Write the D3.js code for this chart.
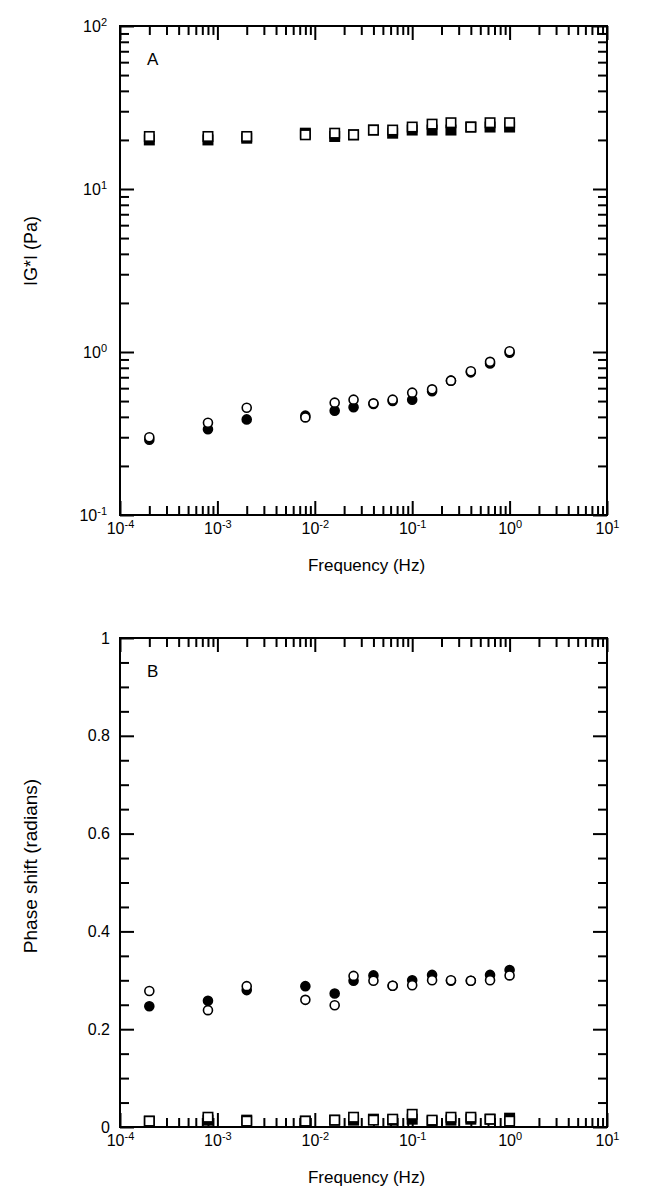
<!DOCTYPE html>
<html>
<head>
<meta charset="utf-8">
<script src="https://cdn.jsdelivr.net/npm/d3@7"></script>
<style>
  body { margin: 0; background: #fff; }
  text { font-family: "Liberation Sans", Arial, Helvetica, sans-serif; fill: #000; }
</style>
</head>
<body>
<div id="chart"></div>
<script>
// frequencies (Hz)
var freq = [0.0002, 0.0008, 0.002, 0.008, 0.016, 0.025, 0.04, 0.063, 0.1, 0.16, 0.25, 0.4, 0.63, 1.0];

// panel A, |G*| (Pa)
var gSquareFilled = [20, 20, 20.5, 22, 21, 21.5, 23, 22, 23, 23, 23, 24, 24, 24];
var gSquareOpen = [21, 21, 21, 21.5, 22, 21.5, 23, 23, 24, 25, 25.5, 24, 25.5, 25.5];
var gCircleFilled = [0.29, 0.336, 0.386, 0.407, 0.436, 0.458, 0.48, 0.50, 0.51, 0.575, 0.667, 0.75, 0.85, 0.99];
var gCircleOpen = [0.30, 0.368, 0.455, 0.397, 0.489, 0.51, 0.484, 0.51, 0.563, 0.59, 0.667, 0.762, 0.87, 1.01];

// panel B, phase shift (radians)
var pCircleFilled = [0.247, 0.258, 0.28, 0.288, 0.273, 0.299, 0.31, 0.289, 0.30, 0.311, 0.299, 0.299, 0.311, 0.321];
var pCircleOpen = [0.278, 0.239, 0.288, 0.26, 0.249, 0.309, 0.299, 0.289, 0.29, 0.30, 0.30, 0.299, 0.30, 0.31];
var pSquareFilled = [0.012, 0.014, 0.014, 0.012, 0.014, 0.014, 0.016, 0.014, 0.016, 0.012, 0.014, 0.016, 0.016, 0.018];
var pSquareOpen = [0.012, 0.02, 0.012, 0.012, 0.014, 0.02, 0.014, 0.016, 0.026, 0.014, 0.02, 0.02, 0.016, 0.012];

var xTicksMajor = [1e-4, 1e-3, 1e-2, 1e-1, 1e0, 1e1];
var gTicksMajor = [1e-1, 1e0, 1e1, 1e2];
var pTicksMajor = [0, 0.2, 0.4, 0.6, 0.8, 1];
var pTicksMinor = [0.05, 0.1, 0.15, 0.25, 0.3, 0.35, 0.45, 0.5, 0.55, 0.65, 0.7, 0.75, 0.85, 0.9, 0.95];

var width = 665;
var height = 1196;

var plotLeft = 120;
var plotRight = 607;
var plotSize = 489;
var panelTops = [26, 638];

var majorLen = 14;
var minorLen = 9;

var svg = d3.select("#chart").append("svg")
  .attr("width", width)
  .attr("height", height);

function logMinor(domain) {
  var out = [];
  for (var e = Math.round(Math.log10(domain[0])); e < Math.round(Math.log10(domain[1])); e++) {
    for (var m = 2; m <= 9; m++) out.push(m * Math.pow(10, e));
  }
  return out;
}

function powLabel(sel, size) {
  sel.selectAll(".tick text").each(function(d) {
    var t = d3.select(this);
    var exp = Math.round(Math.log10(d));
    t.text("10");
    t.append("tspan").attr("dy", "-0.55em").attr("font-size", size).text(exp);
  });
}

function styleAxis(g) {
  g.select(".domain").remove();
  g.selectAll(".tick line").attr("stroke", "#000").attr("stroke-width", 2);
}

function drawPanel(top, yScale, yMajor, yMinor, logY, letter, yTitle, yTitleY, yTitleSize) {
  var bottom = top + plotSize;
  var xScale = d3.scaleLog().domain([1e-4, 1e1]).range([plotLeft, plotRight]);
  var xMinor = logMinor([1e-4, 1e1]);
  var g = svg.append("g");

  // bottom axis
  var bx = g.append("g").attr("transform", "translate(0," + bottom + ")")
    .call(d3.axisBottom(xScale).tickValues(xTicksMajor).tickSize(-majorLen).tickSizeOuter(0).tickPadding(8));
  bx.selectAll("text").attr("font-size", 16);
  powLabel(bx, 11);
  styleAxis(bx);
  var bxm = g.append("g").attr("transform", "translate(0," + bottom + ")")
    .call(d3.axisBottom(xScale).tickValues(xMinor).tickSize(-minorLen).tickSizeOuter(0).tickFormat(""));
  styleAxis(bxm);

  // top axis
  var tx = g.append("g").attr("transform", "translate(0," + top + ")")
    .call(d3.axisTop(xScale).tickValues(xTicksMajor).tickSize(-majorLen).tickSizeOuter(0).tickFormat(""));
  styleAxis(tx);
  var txm = g.append("g").attr("transform", "translate(0," + top + ")")
    .call(d3.axisTop(xScale).tickValues(xMinor).tickSize(-minorLen).tickSizeOuter(0).tickFormat(""));
  styleAxis(txm);

  // left axis
  var ly = g.append("g").attr("transform", "translate(" + plotLeft + ",0)")
    .call(d3.axisLeft(yScale).tickValues(yMajor).tickSize(-majorLen).tickSizeOuter(0).tickPadding(logY ? 13 : 10));
  ly.selectAll("text").attr("font-size", 16);
  if (logY) powLabel(ly, 11);
  else ly.selectAll(".tick text").text(function(d) { return d === 0 || d === 1 ? d : d3.format(".1f")(d); });
  styleAxis(ly);
  var lym = g.append("g").attr("transform", "translate(" + plotLeft + ",0)")
    .call(d3.axisLeft(yScale).tickValues(yMinor).tickSize(-minorLen).tickSizeOuter(0).tickFormat(""));
  styleAxis(lym);

  // right axis
  var ry = g.append("g").attr("transform", "translate(" + plotRight + ",0)")
    .call(d3.axisRight(yScale).tickValues(yMajor).tickSize(-majorLen).tickSizeOuter(0).tickFormat(""));
  styleAxis(ry);
  var rym = g.append("g").attr("transform", "translate(" + plotRight + ",0)")
    .call(d3.axisRight(yScale).tickValues(yMinor).tickSize(-minorLen).tickSizeOuter(0).tickFormat(""));
  styleAxis(rym);

  // frame
  g.append("rect")
    .attr("x", plotLeft).attr("y", top)
    .attr("width", plotRight - plotLeft).attr("height", plotSize)
    .attr("fill", "none").attr("stroke", "#000").attr("stroke-width", 2);

  // titles
  g.append("text")
    .attr("x", (plotLeft + plotRight) / 2 + 3).attr("y", bottom + 56)
    .attr("text-anchor", "middle").attr("font-size", 17)
    .text("Frequency (Hz)");
  g.append("text")
    .attr("transform", "translate(37," + yTitleY + ") rotate(-90)")
    .attr("text-anchor", "middle").attr("font-size", yTitleSize)
    .text(yTitle);
  g.append("text")
    .attr("x", plotLeft + 27).attr("y", top + 39)
    .attr("font-size", 17)
    .text(letter);

  return { g: g, x: xScale, y: yScale };
}

function drawSquares(p, values, filled) {
  p.g.append("g").selectAll("rect").data(values).enter().append("rect")
    .attr("x", function(d, i) { return p.x(freq[i]) - 4.7; })
    .attr("y", function(d) { return p.y(d) - 4.7; })
    .attr("width", 9.4).attr("height", 9.4)
    .attr("fill", filled ? "#000" : "#fff")
    .attr("stroke", "#000").attr("stroke-width", 1.6);
}

function drawCircles(p, values, filled) {
  p.g.append("g").selectAll("circle").data(values).enter().append("circle")
    .attr("cx", function(d, i) { return p.x(freq[i]); })
    .attr("cy", function(d) { return p.y(d); })
    .attr("r", 4.5)
    .attr("fill", filled ? "#000" : "#fff")
    .attr("stroke", "#000").attr("stroke-width", 1.6);
}

// Panel A
var yA = d3.scaleLog().domain([1e-1, 1e2]).range([panelTops[0] + plotSize, panelTops[0]]);
var pA = drawPanel(panelTops[0], yA, gTicksMajor, logMinor([1e-1, 1e2]), true, "A", "IG*I (Pa)", 251, 18);
drawSquares(pA, gSquareFilled, true);
drawSquares(pA, gSquareOpen, false);
drawCircles(pA, gCircleFilled, true);
drawCircles(pA, gCircleOpen, false);

// Panel B
var yB = d3.scaleLinear().domain([0, 1]).range([panelTops[1] + plotSize, panelTops[1]]);
var pB = drawPanel(panelTops[1], yB, pTicksMajor, pTicksMinor, false, "B", "Phase shift (radians)", 866, 19);
drawSquares(pB, pSquareFilled, true);
drawSquares(pB, pSquareOpen, false);
drawCircles(pB, pCircleFilled, true);
drawCircles(pB, pCircleOpen, false);
</script>
</body>
</html>
